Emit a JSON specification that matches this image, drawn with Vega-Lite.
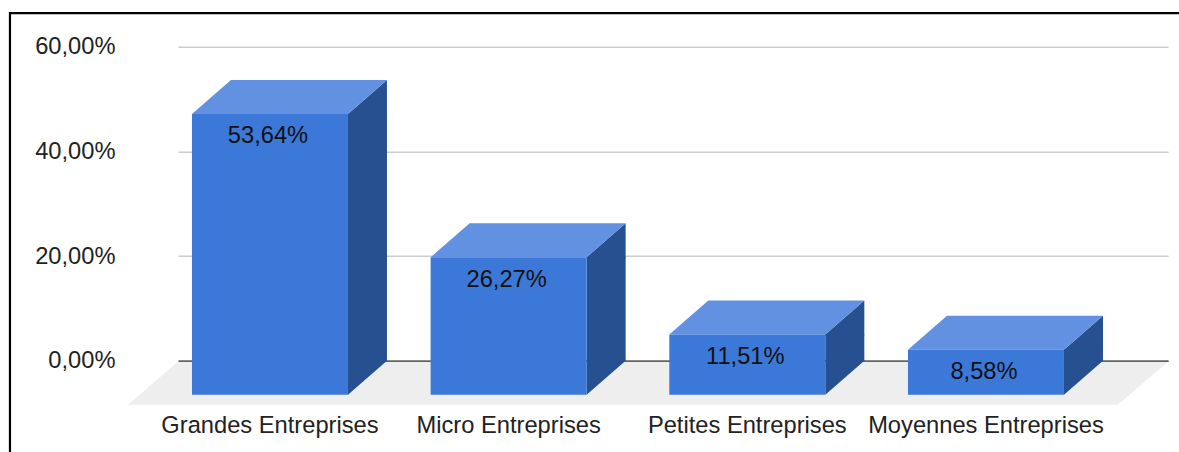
{
  "$schema": "https://vega.github.io/schema/vega-lite/v6.json",
  "width": 990,
  "height": 314,
  "autosize": "none",
  "padding": {"left": 178, "top": 46.7, "right": 11, "bottom": 91.3},
  "background": "#ffffff",
  "config": {"view": {"stroke": null}, "font": "Liberation Sans"},
  "data": {"values": [
    {"categorie": "Grandes Entreprises", "part": 53.64, "libelle": "53,64%"},
    {"categorie": "Micro Entreprises", "part": 26.27, "libelle": "26,27%"},
    {"categorie": "Petites Entreprises", "part": 11.51, "libelle": "11,51%"},
    {"categorie": "Moyennes Entreprises", "part": 8.58, "libelle": "8,58%"}
  ]},
  "encoding": {
    "x": {
      "field": "categorie",
      "type": "nominal",
      "sort": null,
      "scale": {"type": "point", "padding": 0.574, "align": 0.478},
      "axis": {
        "title": null, "labelAngle": 0, "labelFont": "Liberation Sans", "labelFontSize": 23.7, "labelColor": "#222222",
        "labelOffset": -39.5, "labelPadding": 65, "ticks": false, "domain": true, "domainColor": "#333333", "domainWidth": 1.5,
        "grid": false, "labelOverlap": false, "labelFlush": false, "labelBaseline": "middle", "labelLimit": 400
      }
    },
    "y": {
      "field": "part",
      "type": "quantitative",
      "scale": {"domain": [0, 60], "nice": false},
      "axis": {
        "title": null, "values": [0, 20, 40, 60], "labelExpr": "replace(format(datum.value, '.2f'), '.', ',') + '%'",
        "labelFont": "Liberation Sans", "labelFontSize": 23.7, "labelColor": "#222222", "labelPadding": 63,
        "ticks": false, "domain": false, "grid": true, "gridColor": "#cccccc", "gridWidth": 1.5
      }
    }
  },
  "layer": [
    {
      "transform": [{"filter": "datum.categorie === 'Grandes Entreprises'"}],
      "mark": {"type": "point", "filled": true, "opacity": 1, "size": 4, "color": "#eeeeee", "strokeWidth": 0, "clip": false,
        "shape": "M-131,1 L859,1 L809,44 L-181,44 Z"},
      "encoding": {"y": {"datum": 0}}
    },
    {
      "transform": [{"filter": "datum.categorie === 'Grandes Entreprises'"}],
      "mark": {"type": "point", "filled": false, "opacity": 1, "size": 4, "stroke": "#000000", "strokeWidth": 2.2, "clip": false,
        "shape": "M-299,406 L-299,-33.5 L870,-33.5"},
      "encoding": {"y": {"datum": 60}}
    },
    {
      "mark": {"type": "bar", "width": 39, "xOffset": 58.5, "yOffset": 33.5, "y2Offset": 0.5, "color": "#26508f", "clip": false},
      "encoding": {"y2": {"datum": 0}}
    },
    {
      "mark": {"type": "point", "filled": true, "opacity": 1, "size": 4, "color": "#26508f", "strokeWidth": 0, "clip": false,
        "shape": "M39,35 L39,34 L78,0 L78,35 Z"}
    },
    {
      "mark": {"type": "point", "filled": true, "opacity": 1, "size": 4, "color": "#26508f", "strokeWidth": 0, "clip": false,
        "shape": "M39,-1 L78,-1 L78,0 L39,34 Z"},
      "encoding": {"y": {"datum": 0}}
    },
    {
      "mark": {"type": "point", "filled": true, "opacity": 1, "size": 4, "color": "#6191e0", "strokeWidth": 0, "clip": false,
        "shape": "M-78,0 L78,0 L39,34 L-117,34 Z"}
    },
    {
      "mark": {"type": "bar", "width": 156, "xOffset": -39, "yOffset": 34, "y2Offset": 34, "color": "#3c78d8", "clip": false},
      "encoding": {"y2": {"datum": 0}}
    },
    {
      "mark": {"type": "text", "font": "Liberation Sans", "fontSize": 23.7, "color": "#111111", "dx": -41, "dy": 56.5, "baseline": "middle", "align": "center"},
      "encoding": {"text": {"field": "libelle", "type": "nominal"}}
    }
  ]
}
